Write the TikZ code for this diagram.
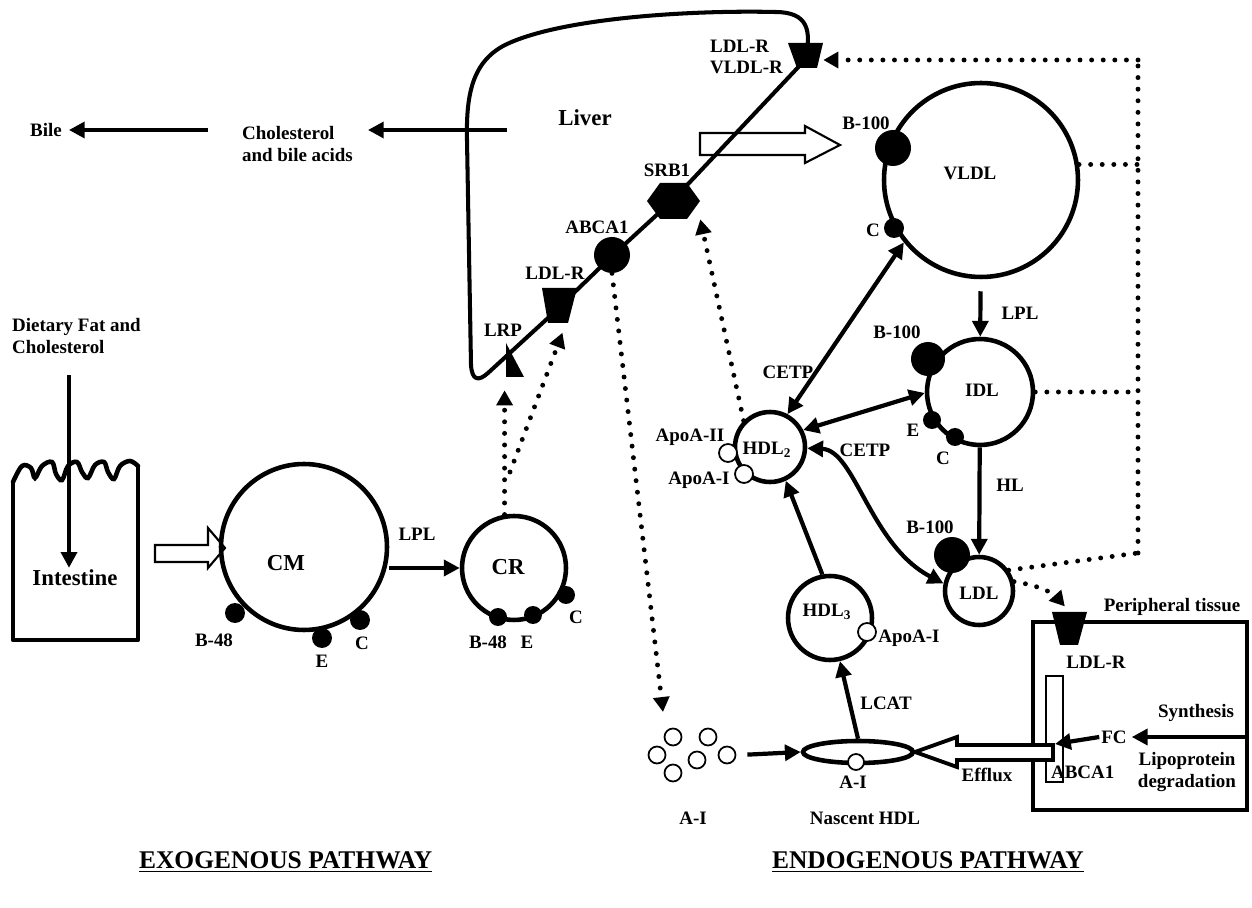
\documentclass[tikz,border=0pt]{standalone}
\usepackage{fontspec}
\setmainfont{Liberation Serif}
\usetikzlibrary{arrows.meta,shapes.geometric,calc}
\begin{document}
\begin{tikzpicture}[x=0.02cm, y=-0.02cm,
  lbl/.style={font=\fontsize{10.8}{12}\selectfont\bfseries, inner sep=1pt},
  big/.style={font=\fontsize{13}{15}\selectfont\bfseries, inner sep=1pt},
  head/.style={font=\fontsize{14.5}{16}\selectfont\bfseries, inner sep=1pt},
  lipo/.style={circle, draw, line width=2.6pt, inner sep=0pt},
  bdot/.style={circle, fill=black, inner sep=0pt},
  wdot/.style={circle, draw, fill=white, line width=1pt, inner sep=0pt},
  ghost/.style={inner sep=0pt, draw=none},
  arr/.style={line width=2.4pt, -{Triangle[length=9pt,width=9pt]}},
  darr/.style={line width=2.4pt, {Triangle[length=9pt,width=9pt]}-{Triangle[length=9pt,width=9pt]}},
  dots/.style={line width=2.8pt, line cap=round, dash pattern=on 0pt off 6.6pt},
  darrow/.style={dots, -{Triangle[length=8.5pt,width=9pt]}},
  memb/.style={line width=2.3pt, line join=round},
  hollow/.style={line width=1.2pt, line join=miter}
]
\useasboundingbox (0,0) rectangle (1252,908);

% ---------------- Liver ----------------
\draw[memb] (805,60) .. controls (812,30) and (808,12) .. (775,12)
  .. controls (690,10) and (560,18) .. (505,45)
  .. controls (472,62) and (466,95) .. (467,140) -- (471,365)
  .. controls (472,380) and (478,382) .. (488,373)
  -- (548,318) -- (612,256) -- (673,200) -- (805,60);
\node[big] (liver) at (585,118) {Liver};

\fill (788,43) -- (823,43) -- (817,68) -- (797,68) -- cycle;
\node[ghost, minimum width=0.7cm, minimum height=0.5cm] (lr1) at (805.5,55.5) {};
\node[lbl, anchor=west, align=left] (lr1t) at (708,57) {LDL-R\\VLDL-R};

\fill (647,201) -- (660,183) -- (687,183) -- (700,201) -- (687,219) -- (660,219) -- cycle;
\node[ghost, minimum width=1.06cm, minimum height=0.72cm] (srb1) at (673.5,201) {};
\node[lbl] (srb1t) at (667,170) {SRB1};

\node[bdot, minimum size=0.72cm] (abca1) at (612,255) {};
\node[lbl] (abca1t) at (597,227) {ABCA1};

\fill (542,288) -- (577,288) -- (568,323) -- (548,323) -- cycle;
\node[ghost, minimum width=0.7cm, minimum height=0.7cm] (lr2) at (559.5,305.5) {};
\node[lbl] (lr2t) at (555,273) {LDL-R};

\fill (506,343) -- (506,377) -- (524,377) -- cycle;
\node[ghost, minimum width=0.36cm, minimum height=0.68cm] (lrp) at (515,360) {};
\node[lbl] (lrpt) at (503,330) {LRP};

% liver secretion arrow (hollow)
\draw[hollow] (700,133) -- (805,133) -- (805,126) -- (840,145) -- (805,163) -- (805,155) -- (700,155) -- cycle;

% bile
\node[lbl, anchor=west, align=left] (chol) at (240,144) {Cholesterol\\and bile acids};
\node[lbl] (bile) at (46,130) {Bile};
\coordinate (liverout) at (507,130);
\draw[arr] (liverout) -- ([xshift=0.26cm]liverout -| chol.east);
\draw[arr] ([xshift=-0.64cm]chol.west |- bile) -- ([xshift=0.1cm]bile.east);

% ---------------- Intestine ----------------
\node[lbl, anchor=west, align=left] (diet) at (10,336) {Dietary Fat and\\Cholesterol};
\draw[line width=2.6pt, line join=round] (13,482) -- (13,640) -- (138,640) -- (138,466);
\draw[line width=2.6pt, line cap=round] plot[smooth, tension=0.6] coordinates {(13,482) (22,466) (31,468) (35,478) (42,466) (52,462) (56,474) (62,480) (68,466) (77,462) (82,472) (88,478) (95,465) (104,462) (108,472) (114,479) (120,466) (130,461) (138,466)};
\node[big] (intest) at (75,578) {Intestine};
\coordinate (dstart) at (69,375);
\draw[arr] (dstart) -- (dstart |- intest.north);

% hollow arrow into CM
\draw[hollow] (155,545) -- (208,545) -- (208,528) -- (225,548) -- (208,568) -- (208,562) -- (155,562) -- cycle;

% ---------------- CM and CR ----------------
\node[lipo, minimum size=3.32cm] (cm) at (304,547) {};
\node[big] (cmt) at (286,563) {CM};
\node[bdot, minimum size=0.4cm] (cmb) at (235,613) {};
\node[bdot, minimum size=0.4cm] (cme) at (322,638) {};
\node[bdot, minimum size=0.4cm] (cmc) at (360,620) {};
\node[lbl] (cmbt) at (214,640) {B-48};
\node[lbl] (cmet) at (322,661) {E};
\node[lbl] (cmct) at (362,643) {C};

\node[lipo, minimum size=2.08cm] (cr) at (514,568) {};
\node[big] (crt) at (508,567) {CR};
\node[bdot, minimum size=0.36cm] (crb) at (498,617) {};
\node[bdot, minimum size=0.36cm] (cre) at (533,615) {};
\node[bdot, minimum size=0.36cm] (crc) at (566,595) {};
\node[lbl] (crbt) at (488,642) {B-48};
\node[lbl] (cret) at (527,642) {E};
\node[lbl] (crct) at (576,617) {C};

\draw[arr] (cm.east |- cr.west) -- (cr.west);
\node[lbl] (lplcm) at (417,534) {LPL};

% CR to receptors
\draw[darrow, shorten >=0.26cm] (cr.100) -- (cr.100 |- lrp.south);
\coordinate (crbr) at (510,472);
\draw[darrow, shorten >=0.2cm] (crbr) -- (lr2.-70);

% ---------------- VLDL / IDL / LDL ----------------
\node[lipo, minimum size=3.88cm] (vldl) at (981,180) {};
\node[lbl] (vldlt) at (970,173) {VLDL};
\node[bdot, minimum size=0.72cm] (vldlb) at (893,148) {};
\node[bdot, minimum size=0.4cm] (vldlc) at (894,228) {};
\node[lbl] (vldlbt) at (866,123) {B-100};
\node[lbl] (vldlct) at (873,230) {C};

\node[lipo, minimum size=2.12cm] (idl) at (980,392) {};
\node[lbl] (idlt) at (982,390) {IDL};
\node[bdot, minimum size=0.68cm] (idlb) at (928,359) {};
\node[bdot, minimum size=0.36cm] (idle) at (932,420) {};
\node[bdot, minimum size=0.36cm] (idlc) at (955,437) {};
\node[lbl] (idlbt) at (897,332) {B-100};
\node[lbl] (idlet) at (913,430) {E};
\node[lbl] (idlct) at (943,458) {C};

\node[lipo, minimum size=1.36cm] (ldl) at (979,591) {};
\node[lbl] (ldlt) at (979,593) {LDL};
\node[bdot, minimum size=0.72cm] (ldlb) at (952,555) {};
\node[lbl] (ldlbt) at (930,527) {B-100};

\draw[arr, shorten <=0.24cm] (vldl) -- (idl);
\node[lbl] (lplv) at (1020,313) {LPL};
\draw[arr] (idl) -- (ldl);
\node[lbl] (hl) at (1010,485) {HL};

% dotted return paths to liver receptor
\coordinate (tr) at (1138,60);
\coordinate (cld) at (1138,553);
\draw[dots] (cld) -- (tr);
\draw[darrow] (tr) -- (lr1.east |- tr);
\draw[dots] (vldl.9) -- (vldl.9 -| tr);
\draw[dots] (idl.east) -- (idl.east -| tr);
\draw[dots] (ldl.35) -- (cld);

% ---------------- HDL ----------------
\node[lipo, minimum size=1.4cm] (hdl2) at (770,447) {};
\node[lbl] (hdl2t) at (767,450) {HDL$_\mathbf{2}$};
\node[wdot, minimum size=0.36cm] (hdl2a2) at (728,453) {};
\node[wdot, minimum size=0.36cm] (hdl2a1) at (744,474) {};
\node[lbl] (hdl2a2t) at (690,437) {ApoA-II};
\node[lbl] (hdl2a1t) at (699,480) {ApoA-I};

\node[lipo, minimum size=1.68cm] (hdl3) at (830,618) {};
\node[lbl] (hdl3t) at (827,612) {HDL$_\mathbf{3}$};
\node[wdot, minimum size=0.36cm] (hdl3a) at (867,632) {};
\node[lbl] (hdl3at) at (909,638) {ApoA-I};

\node[ellipse, draw, line width=2.6pt, minimum width=2.2cm, minimum height=0.44cm, inner sep=0pt] (nascent) at (858,752) {};
\node[wdot, minimum size=0.32cm] (nasa) at (856,762) {};
\node[lbl] (nasat) at (853,782) {A-I};
\node[lbl] (nast) at (865,818) {Nascent HDL};

\node[ghost, minimum width=1.9cm, minimum height=1.1cm] (aigroup) at (692,755) {};
\foreach \n/\p in {1/{(673,737)},2/{(708,737)},3/{(657,755)},4/{(697,760)},5/{(727,755)},6/{(673,773)}}
  \node[wdot, minimum size=0.34cm] (ai\n) at \p {};
\node[lbl] (ait) at (693,818) {A-I};
\draw[arr, shorten <=0.15cm] (aigroup.east) -- (nascent.west);

\draw[arr] (nascent.north) -- (hdl3.-77);
\node[lbl] (lcat) at (886,703) {LCAT};
\draw[arr] (hdl3.100) -- (hdl2.-65);

\draw[darr] (hdl2.62) -- (vldl.219);
\node[lbl] (cetp1) at (788,372) {CETP};
\draw[darr] (hdl2.27) -- (idl.181);
\draw[darr] (hdl2.-2) .. controls (855,450) and (870,545) .. (ldl.168);
\node[lbl] (cetp2) at (865,450) {CETP};

% dotted from HDL2 to SRB1, ABCA1 to A-I
\draw[darrow] (hdl2.135) -- (srb1.south east);
\coordinate (aiin) at (663,712);
\draw[darrow] (abca1.south) -- (aiin);

% ---------------- Peripheral tissue ----------------
\node[draw, line width=2.6pt, minimum width=4.28cm, minimum height=3.76cm, inner sep=0pt] (ptis) at (1140,716) {};
\node[lbl] (ptist) at (1172,607) {Peripheral tissue};
\fill (1052,612) -- (1087,612) -- (1078,645) -- (1060,645) -- cycle;
\node[ghost, minimum width=0.7cm, minimum height=0.66cm] (plr) at (1069.5,628.5) {};
\node[lbl] (plrt) at (1096,662) {LDL-R};
\draw[darrow, shorten >=0.14cm] (ldl.15) to[bend left=20] (plr.north);

\node[draw, fill=white, line width=0.9pt, minimum width=0.34cm, minimum height=2.12cm, inner sep=0pt] (pabca) at (1054.5,729) {};
\draw[line width=2.2pt, fill=white, line join=miter] (1053,745) -- (957,745) -- (957,737) -- (915,752) -- (957,767) -- (957,760) -- (1053,760) -- cycle;
\node[lbl] (efflux) at (987,775) {Efflux};
\node[lbl, anchor=west] (pabcat) at (1049,772) {ABCA1};

\node[lbl] (fc) at (1114,737) {FC};
\coordinate (effR) at (1055,744);
\draw[arr] (fc.west) -- (effR);
\coordinate (synR) at (1247,737);
\draw[arr, shorten >=0.06cm] (synR) -- (fc.east);
\node[lbl] (synt) at (1196,713) {Synthesis};
\node[lbl, align=center] (lipot) at (1187,772) {Lipoprotein\\degradation};

% ---------------- Headings ----------------
\node[head, anchor=west] (exo) at (137,862) {\underline{EXOGENOUS PATHWAY}};
\node[head, anchor=west] (endo) at (770,862) {\underline{ENDOGENOUS PATHWAY}};
\end{tikzpicture}
\end{document}
